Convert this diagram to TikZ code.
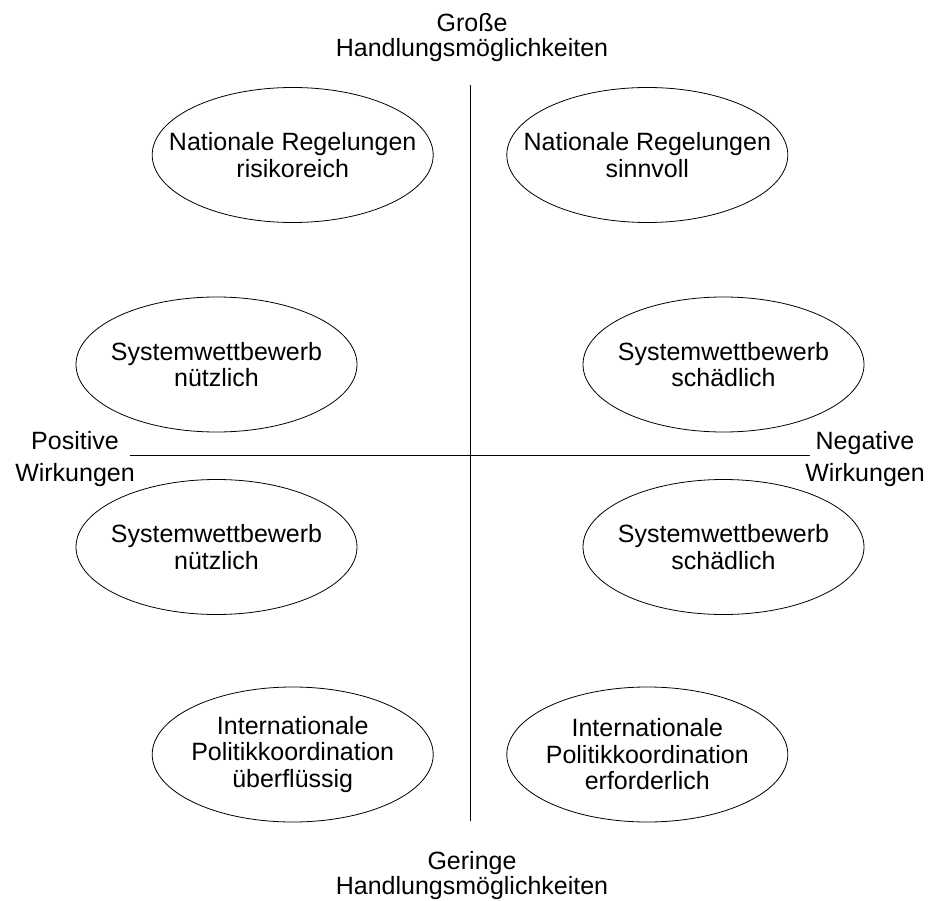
\documentclass[tikz,border=0pt]{standalone}
\usepackage{fontspec}
\setmainfont{Liberation Sans}
\usetikzlibrary{shapes.geometric}
\begin{document}
\begin{tikzpicture}[x=1pt,y=-1pt,
  oval/.style={ellipse, draw, line width=0.8pt, minimum width=281pt, minimum height=135pt,
    inner xsep=-60pt, inner ysep=0pt, align=center, font=\fontsize{25}{26.5}\selectfont},
  lbl/.style={align=center, inner sep=0pt, font=\fontsize{25}{25}\selectfont},
  sidelbl/.style={align=center, inner sep=0pt, font=\fontsize{25}{32}\selectfont},
  axisline/.style={line width=0.8pt}]
\useasboundingbox (0,0) rectangle (942,901);
\coordinate (top) at (470,85);
\coordinate (bottom) at (470,821);
\coordinate (left) at (130,455.5);
\coordinate (right) at (810,455.5);
\draw[axisline] (top) -- (bottom);
\draw[axisline] (left) -- (right);
\node[lbl] (gross) at (472,37.5) {Große\\Handlungsmöglichkeiten};
\node[lbl] (gering) at (472,876) {Geringe\\Handlungsmöglichkeiten};
\node[sidelbl] (pos) at (75,459) {Positive\\Wirkungen};
\node[sidelbl] (neg) at (865,459) {Negative\\Wirkungen};
\node[oval] (tl) at (292.7,155) {Nationale Regelungen\\risikoreich};
\node[oval] (tr) at (647.3,155) {Nationale Regelungen\\sinnvoll};
\node[oval] (ml) at (216.5,364.5) {Systemwettbewerb\\nützlich};
\node[oval] (mr) at (723.5,364.5) {Systemwettbewerb\\schädlich};
\node[oval] (ll) at (216.5,547) {Systemwettbewerb\\nützlich};
\node[oval] (lr) at (723.5,547) {Systemwettbewerb\\schädlich};
\node[oval] (bl) at (292.7,754.5) {Internationale\\Politikkoordination\\überflüssig};
\node[oval] (br) at (647.3,754.5) {Internationale\\Politikkoordination\\erforderlich};
\end{tikzpicture}
\end{document}
